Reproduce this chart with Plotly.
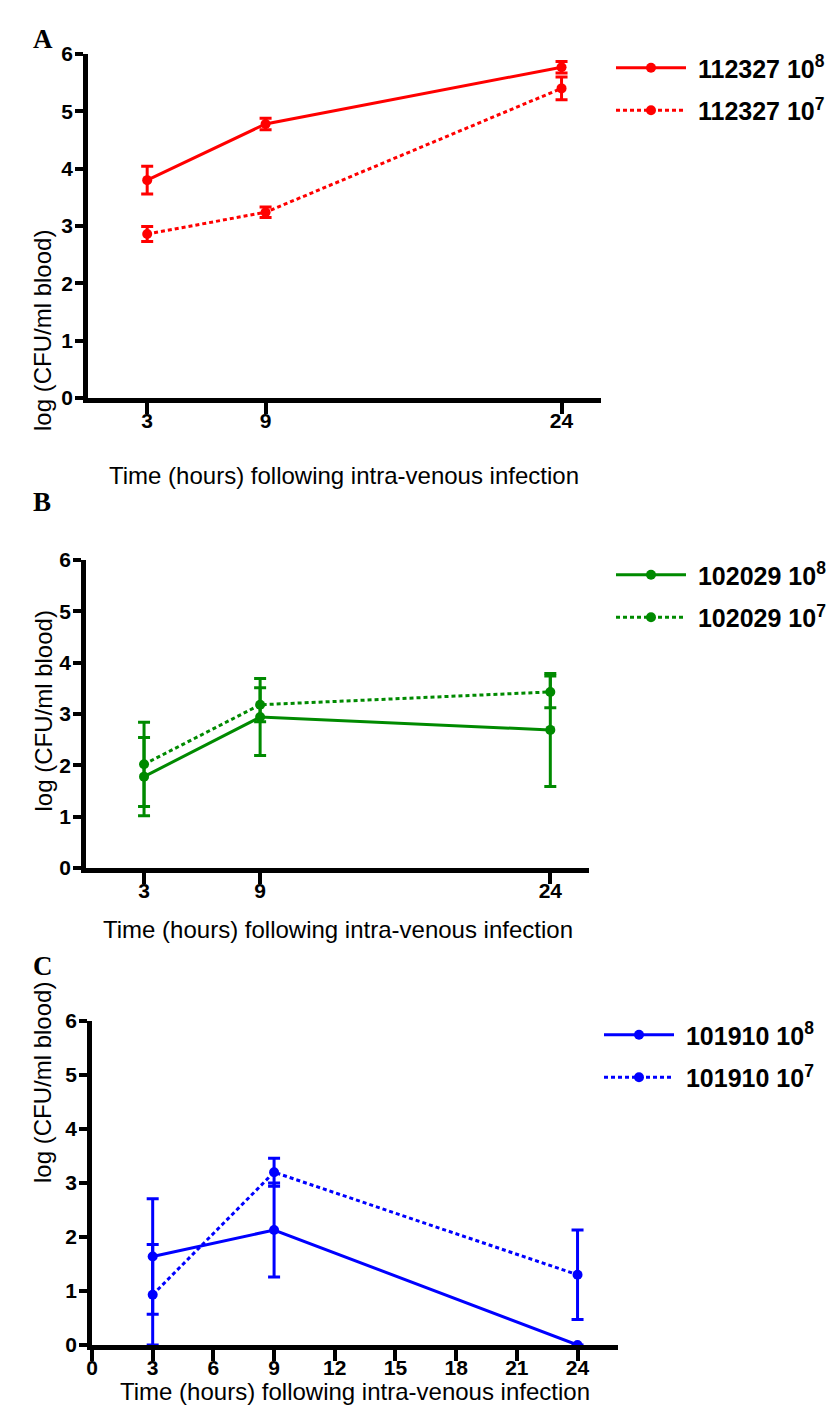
import plotly.graph_objects as go

# Sampling times (hours after intra-venous infection)
hours = [3, 9, 24]

# Panel A: strain 112327
a_hi_mean = [3.80, 4.78, 5.77]
a_hi_err = [0.24, 0.10, 0.10]
a_lo_mean = [2.86, 3.24, 5.40]
a_lo_err = [0.13, 0.09, 0.20]

# Panel B: strain 102029
b_hi_mean = [1.78, 2.94, 2.69]
b_hi_err = [0.76, 0.75, 1.10]
b_lo_mean = [2.02, 3.18, 3.43]
b_lo_err = [0.82, 0.33, 0.31]

# Panel C: strain 101910
c_hi_mean = [1.64, 2.13, 0.0]
c_hi_err = [1.07, 0.87, 0.0]
c_lo_mean = [0.93, 3.20, 1.30]
c_lo_err = [0.93, 0.26, 0.83]

panels = [
    dict(letter="A", strain="112327", color="#ff0000",
         hi=(a_hi_mean, a_hi_err), lo=(a_lo_mean, a_lo_err)),
    dict(letter="B", strain="102029", color="#008a00",
         hi=(b_hi_mean, b_hi_err), lo=(b_lo_mean, b_lo_err)),
    dict(letter="C", strain="101910", color="#0000ff",
         hi=(c_hi_mean, c_hi_err), lo=(c_lo_mean, c_lo_err)),
]

W, H = 830, 1421

# Plot areas in pixels: (left, right, y=0 row, y=6 row)
boxes = [(88, 601, 398, 54), (86, 589, 868, 560), (92, 618, 1345, 1021)]
legend_pos = [(611, 45), (611, 552), (599, 1012)]
ytitle_y = [228, 711, 1185]
xtitle = [(344, 460), (338, 929), (355, 1407)]
letter_y = [22, 502, 983]

SANS = "Liberation Sans, Arial, sans-serif"
fig = go.Figure()
layout = dict(width=W, height=H,
              margin=dict(l=0, r=0, t=0, b=0, pad=0, autoexpand=False),
              plot_bgcolor="white", paper_bgcolor="white", annotations=[])

for i, p in enumerate(panels):
    n = "" if i == 0 else str(i + 1)
    leg = "legend" + n
    for key, dose, dash in (("hi", "8", "solid"), ("lo", "7", "4px,3px")):
        mean, err = p[key]
        fig.add_trace(go.Scatter(
            x=hours, y=mean, mode="lines+markers",
            name=f"&nbsp;<b>{p['strain']} 10<sup>{dose}</sup></b>",
            legendgroup=f"{p['strain']}-{dose}",
            line=dict(color=p["color"], width=3, dash=dash),
            marker=dict(color=p["color"], size=10),
            error_y=dict(type="data", array=err, color=p["color"],
                         thickness=3, width=6),
            cliponaxis=False,
            xaxis="x" + n, yaxis="y" + n, legend=leg,
        ))

    left, right, y0, y6 = boxes[i]
    xdom = [left / W, right / W]
    ydom = [1 - y0 / H, 1 - y6 / H]
    if i == 2:
        xtv = list(range(0, 25, 3))
    else:
        xtv = hours
    layout["xaxis" + n] = dict(
        domain=xdom, range=[0, 26], anchor="y" + n,
        showline=True, linewidth=4.5, linecolor="black",
        ticks="outside", ticklen=11, tickwidth=4, tickcolor="black",
        tickvals=xtv, showgrid=False, zeroline=False,
        ticklabelstandoff=-11,
        tickfont=dict(family=SANS, size=21, color="black", weight="bold"),
    )
    layout["yaxis" + n] = dict(
        domain=ydom, range=[0, 6], anchor="x" + n,
        showline=True, linewidth=4.5, linecolor="black",
        ticks="outside", ticklen=8, tickwidth=4, tickcolor="black",
        tickvals=list(range(0, 7)), showgrid=False, zeroline=False,
        ticklabelstandoff=-2,
        tickfont=dict(family=SANS, size=21, color="black", weight="bold"),
    )
    lx, ly = legend_pos[i]
    layout[leg] = dict(
        x=lx / W, y=1 - ly / H, xanchor="left", yanchor="top",
        bgcolor="rgba(0,0,0,0)", tracegroupgap=7,
        font=dict(family=SANS, size=25, color="black"),
        itemwidth=70,
    )
    layout["annotations"] += [
        dict(text=f"<b>{p['letter']}</b>", x=31 / W, y=1 - letter_y[i] / H,
             xref="paper", yref="paper", showarrow=False,
             font=dict(family="Liberation Serif, Times New Roman, serif",
                       size=27, color="black")),
        dict(text="log (CFU/ml blood)", x=27 / W, y=1 - ytitle_y[i] / H,
             xref="paper", yref="paper", showarrow=False, textangle=-90,
             font=dict(family=SANS, size=24, color="black")),
        dict(text="Time (hours) following intra-venous infection",
             x=xtitle[i][0] / W, y=1 - xtitle[i][1] / H,
             xref="paper", yref="paper", showarrow=False,
             font=dict(family=SANS, size=24, color="black")),
    ]

fig.update_layout(**layout)
fig.write_html("out.html")
